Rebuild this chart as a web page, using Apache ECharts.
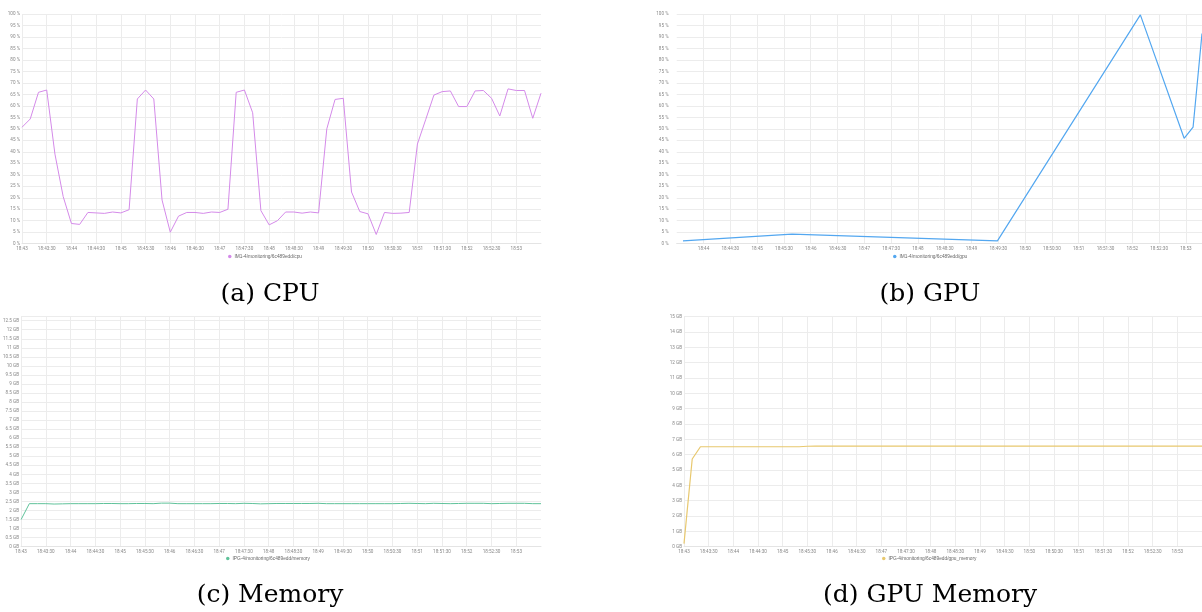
<!DOCTYPE html>
<html>
<head>
<meta charset="utf-8">
<script src="https://cdn.jsdelivr.net/npm/echarts@6/dist/echarts.min.js"></script>
<style>
  html, body { margin: 0; padding: 0; background: #fff; }
  #chart { width: 1202px; height: 612px; }
</style>
</head>
<body>
<div id="chart"></div>
<script>
(function () {
    // samples every 10 s from 18:43:00
    var startTime = '18:43:00';
    var stepSeconds = 10;

    var cpuName = 'IM1-4/monitoring/6c489edd/cpu';
    var gpuName = 'IM1-4/monitoring/6c489edd/gpu';
    var memName = 'IPG-4/monitoring/6c489edd/memory';
    var gpuMemName = 'IPG-4/monitoring/6c489edd/gpu_memory';

    var cpuValues = [50.7, 54.3, 65.9, 66.9, 39, 20.5, 8.8, 8.4, 13.6, 13.4,
        13.2, 13.8, 13.4, 14.8, 63.0, 66.9, 63.0, 19.0, 5.0, 12.0,
        13.6, 13.6, 13.2, 13.8, 13.6, 15.0, 65.9, 66.9, 57.0, 14.4,
        8.2, 10.0, 13.8, 13.8, 13.3, 13.8, 13.4, 50.0, 62.8, 63.3,
        22.5, 14.0, 13.0, 4.0, 13.6, 13.2, 13.3, 13.6, 43.4, 54.0,
        64.7, 66.2, 66.5, 59.7, 59.7, 66.5, 66.7, 63.3, 55.6, 67.4,
        66.7, 66.7, 54.6, 65.5];

    var gpuTimes = ['18:43:37', '18:45:39', '18:49:29', '18:52:09', '18:52:58', '18:53:08', '18:53:18'];
    var gpuValues = [1.2, 4.2, 1.2, 99.6, 45.9, 50.7, 91.5];

    var memValues = [1.50, 2.38, 2.38, 2.38, 2.36, 2.37, 2.38, 2.38, 2.38, 2.38,
        2.39, 2.39, 2.38, 2.38, 2.39, 2.39, 2.38, 2.41, 2.41, 2.38,
        2.38, 2.38, 2.38, 2.38, 2.39, 2.39, 2.38, 2.40, 2.39, 2.37,
        2.38, 2.39, 2.39, 2.39, 2.39, 2.39, 2.40, 2.38, 2.38, 2.38,
        2.38, 2.38, 2.38, 2.38, 2.38, 2.38, 2.39, 2.40, 2.39, 2.38,
        2.40, 2.39, 2.38, 2.39, 2.40, 2.40, 2.40, 2.38, 2.39, 2.40,
        2.40, 2.40, 2.38, 2.38];

    var gpuMemValues = [0.2, 5.72, 6.52, 6.52, 6.52, 6.52, 6.52, 6.52, 6.52, 6.52,
        6.52, 6.52, 6.52, 6.52, 6.52, 6.55, 6.56, 6.56, 6.56, 6.56,
        6.56, 6.56, 6.56, 6.56, 6.56, 6.56, 6.56, 6.56, 6.56, 6.56,
        6.56, 6.56, 6.56, 6.56, 6.56, 6.56, 6.56, 6.56, 6.56, 6.56,
        6.56, 6.56, 6.56, 6.56, 6.56, 6.56, 6.56, 6.56, 6.56, 6.56,
        6.56, 6.56, 6.56, 6.56, 6.56, 6.56, 6.56, 6.56, 6.56, 6.56,
        6.56, 6.56, 6.56, 6.56];

    var captions = ['(a) CPU', '(b) GPU', '(c) Memory', '(d) GPU Memory'];

    function toTime(hms) {
        var p = hms.split(':');
        return new Date(2024, 0, 1, +p[0], +p[1], +p[2]).getTime();
    }
    var t0 = toTime(startTime);
    function sampled(values) {
        return values.map(function (v, i) { return [t0 + i * stepSeconds * 1000, v]; });
    }
    function pad(n) { return n < 10 ? '0' + n : '' + n; }
    function timeLabel(v) {
        var d = new Date(v);
        var s = pad(d.getHours()) + ':' + pad(d.getMinutes());
        if (d.getSeconds()) s += ':' + pad(d.getSeconds());
        return s;
    }

    var tEnd = t0 + (cpuValues.length - 1) * stepSeconds * 1000;
    var labelStyle = { fontSize: 4.6, color: '#888', fontFamily: 'Roboto' };
    var gridLine = { show: true, lineStyle: { color: '#ececec', width: 1 } };

    // x axis in ms, ticks every 30 s counted from min
    function xAxis(grid, min, max, hideMin) {
        return {
            type: 'value', gridIndex: grid, min: min, max: max, interval: 30000,
            axisLine: { show: true, lineStyle: { color: '#e4e4e4' } },
            axisTick: { show: false },
            splitLine: Object.assign({ showMinLine: !hideMin, showMaxLine: false }, gridLine),
            axisLabel: Object.assign({
                margin: 3, formatter: timeLabel,
                showMinLabel: !hideMin, showMaxLabel: false
            }, labelStyle)
        };
    }
    function yAxis(grid, max, interval, unit, hideMax, margin) {
        return {
            type: 'value', gridIndex: grid, min: 0, max: max, interval: interval,
            axisLine: { show: false }, axisTick: { show: false },
            splitLine: gridLine,
            axisLabel: Object.assign({
                margin: margin || 2, showMaxLabel: !hideMax,
                formatter: function (v) { return v + ' ' + unit; }
            }, labelStyle)
        };
    }
    function line(name, idx, data, color, width) {
        return {
            name: name, type: 'line', xAxisIndex: idx, yAxisIndex: idx,
            data: data, showSymbol: false, symbol: 'circle',
            lineStyle: { color: color, width: width }, itemStyle: { color: color }
        };
    }
    function legend(name, left, top) {
        return {
            data: [name], left: left, top: top, icon: 'circle',
            itemWidth: 3.5, itemHeight: 3.5, itemGap: 2, padding: 0,
            textStyle: { fontSize: 4.8, color: '#666', padding: [0, 0, 0, -2] }
        };
    }
    function caption(text, x, y) {
        return {
            type: 'text', x: x, y: y,
            style: {
                text: text, fill: '#000', font: '25px "DejaVu Serif"',
                fontSize: 25, fontFamily: 'DejaVu Serif',
                align: 'center', verticalAlign: 'middle',
                textAlign: 'center', textVerticalAlign: 'middle'
            }
        };
    }

    // GPU panel: axis starts on the 30 s tick just before the first sample,
    // the grid is widened to the left so the first sample sits at the panel edge
    var gpuStart = toTime(gpuTimes[0]);
    var gpuEnd = toTime(gpuTimes[gpuTimes.length - 1]);
    var gpuAxisMin = Math.floor(gpuStart / 30000) * 30000;
    var gpuPlotLeft = 683, gpuPlotWidth = 1202 - gpuPlotLeft;
    var gpuGridLeft = gpuPlotLeft - gpuPlotWidth * (gpuStart - gpuAxisMin) / (gpuEnd - gpuStart);

    var myChart = echarts.init(document.getElementById('chart'));
    var option = {
        animation: false,
        grid: [
            { left: 22, top: 14, width: 519, height: 229.7 },
            { left: gpuGridLeft, top: 14, right: 0, height: 229.7 },
            { left: 21, top: 316, width: 520, height: 230.7 },
            { left: 684, top: 316.7, right: 0, height: 230 }
        ],
        xAxis: [
            xAxis(0, t0, tEnd),
            xAxis(1, gpuAxisMin, gpuEnd, true),
            xAxis(2, t0, tEnd),
            xAxis(3, t0, tEnd)
        ],
        yAxis: [
            yAxis(0, 100, 5, '%'),
            yAxis(1, 100, 5, '%', false, 2 + gpuPlotLeft - gpuGridLeft),
            yAxis(2, 12.76, 0.5, 'GB', true),
            yAxis(3, 15, 1, 'GB')
        ],
        legend: [
            legend(cpuName, 228, 254),
            legend(gpuName, 893, 254),
            legend(memName, 226, 556),
            legend(gpuMemName, 882, 556)
        ],
        series: [
            line(cpuName, 0, sampled(cpuValues), '#d48ae9', 1),
            line(gpuName, 1, gpuTimes.map(function (t, i) { return [toTime(t), gpuValues[i]]; }), '#53a7f0', 1.2),
            line(memName, 2, sampled(memValues), '#5fc29a', 1),
            line(gpuMemName, 3, sampled(gpuMemValues), '#e8c86e', 1.2)
        ],
        graphic: [
            caption(captions[0], 270, 294),
            caption(captions[1], 930, 294),
            caption(captions[2], 270, 595),
            caption(captions[3], 930, 595)
        ]
    };

    myChart.setOption(option);
    window.addEventListener('resize', function () {
        myChart.resize();
    });
})();
</script>
</body>
</html>
